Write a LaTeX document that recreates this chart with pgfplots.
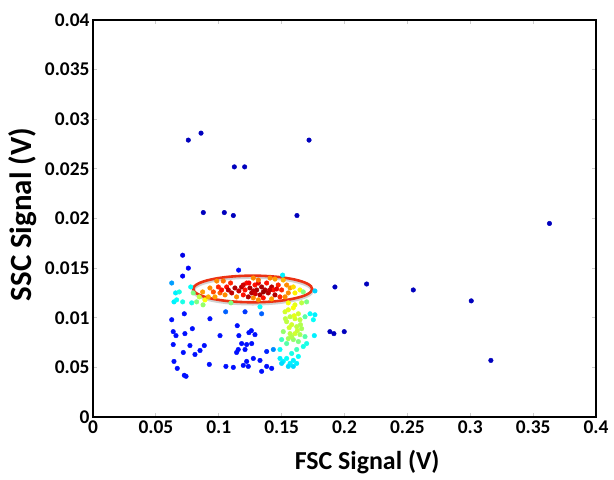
\documentclass[border=0pt]{standalone}
\usepackage{fontspec}
\setmainfont{Carlito}
\usepackage{pgfplots}
\usepackage{pgfplotstable}
\pgfplotsset{compat=1.18}
\definecolor{ellred}{RGB}{235,50,20}
\pgfplotstableread{
x y c
0.0758 0.0279 0.06
0.0859 0.0286 0.06
0.1718 0.0279 0.06
0.1124 0.0252 0.06
0.1206 0.0252 0.06
0.0877 0.0206 0.06
0.1044 0.0206 0.06
0.1116 0.0203 0.06
0.1622 0.0203 0.06
0.3630 0.0195 0.06
0.1924 0.0131 0.06
0.2176 0.0134 0.06
0.2547 0.0128 0.06
0.3008 0.0117 0.06
0.3164 0.0057 0.06
0.1884 0.0086 0.06
0.1916 0.0084 0.06
0.1998 0.0086 0.06
0.0713 0.0163 0.10
0.0758 0.0150 0.12
0.0713 0.0142 0.12
0.1158 0.0148 0.14
0.0626 0.0135 0.28
0.0657 0.0125 0.36
0.0686 0.0126 0.40
0.0644 0.0116 0.36
0.0665 0.0118 0.38
0.0713 0.0116 0.40
0.0777 0.0131 0.38
0.0797 0.0125 0.50
0.0785 0.0115 0.40
0.0824 0.0116 0.50
0.0845 0.0121 0.56
0.0872 0.0126 0.72
0.0890 0.0118 0.62
0.0917 0.0121 0.70
0.0930 0.0130 0.74
0.0957 0.0126 0.80
0.0970 0.0121 0.72
0.0997 0.0131 0.84
0.1010 0.0125 0.78
0.1023 0.0128 0.86
0.1050 0.0123 0.74
0.1063 0.0131 0.86
0.1076 0.0128 0.94
0.1094 0.0135 0.84
0.1103 0.0125 0.94
0.1129 0.0130 0.95
0.1142 0.0121 0.74
0.1097 0.0115 0.50
0.0875 0.0113 0.52
0.0984 0.0137 0.74
0.1036 0.0137 0.76
0.1182 0.0131 0.95
0.1209 0.0128 0.86
0.1222 0.0135 0.86
0.1248 0.0130 0.96
0.1262 0.0125 0.95
0.1288 0.0133 0.86
0.1302 0.0128 0.96
0.1328 0.0123 0.95
0.1341 0.0131 0.96
0.1368 0.0128 0.95
0.1381 0.0135 0.86
0.1394 0.0125 0.95
0.1421 0.0131 0.95
0.1434 0.0128 0.86
0.1447 0.0123 0.95
0.1473 0.0133 0.84
0.1500 0.0128 0.84
0.1195 0.0123 0.86
0.1235 0.0121 0.95
0.1354 0.0120 0.86
0.1487 0.0121 0.84
0.1160 0.0127 0.93
0.1195 0.0133 0.92
0.1275 0.0127 0.94
0.1315 0.0135 0.90
0.1355 0.0126 0.97
0.1405 0.0128 0.93
0.1460 0.0129 0.90
0.1240 0.0135 0.88
0.1290 0.0124 0.92
0.1275 0.0140 0.74
0.1315 0.0138 0.76
0.1408 0.0140 0.74
0.1447 0.0139 0.72
0.1513 0.0138 0.70
0.1540 0.0133 0.74
0.1567 0.0130 0.72
0.1593 0.0131 0.66
0.1553 0.0125 0.74
0.1606 0.0125 0.64
0.1646 0.0128 0.62
0.1527 0.0121 0.74
0.1275 0.0120 0.74
0.1315 0.0118 0.74
0.1421 0.0119 0.72
0.1508 0.0143 0.36
0.1765 0.0127 0.33
0.1328 0.0111 0.38
0.1672 0.0126 0.50
0.1553 0.0115 0.62
0.1606 0.0113 0.60
0.1659 0.0115 0.56
0.1699 0.0116 0.50
0.1527 0.0106 0.58
0.1553 0.0108 0.60
0.1593 0.0110 0.62
0.1633 0.0104 0.58
0.1567 0.0101 0.56
0.1606 0.0099 0.58
0.1646 0.0098 0.56
0.1540 0.0096 0.56
0.1580 0.0093 0.58
0.1620 0.0091 0.56
0.1659 0.0089 0.54
0.1513 0.0086 0.52
0.1567 0.0084 0.56
0.1606 0.0084 0.58
0.1646 0.0083 0.54
0.1553 0.0079 0.54
0.1593 0.0078 0.52
0.1633 0.0076 0.50
0.1540 0.0074 0.46
0.1500 0.0078 0.44
0.1686 0.0081 0.46
0.1699 0.0074 0.40
0.1672 0.0071 0.40
0.1726 0.0104 0.38
0.1765 0.0103 0.36
0.1752 0.0098 0.38
0.1686 0.0101 0.46
0.1620 0.0068 0.44
0.1487 0.0068 0.38
0.1600 0.0102 0.60
0.1560 0.0090 0.58
0.1625 0.0087 0.57
0.1580 0.0081 0.55
0.1530 0.0099 0.56
0.1650 0.0093 0.55
0.1760 0.0082 0.36
0.1487 0.0059 0.36
0.1513 0.0056 0.36
0.1540 0.0059 0.38
0.1567 0.0054 0.36
0.1593 0.0057 0.36
0.1633 0.0061 0.38
0.1553 0.0051 0.34
0.1593 0.0051 0.34
0.1500 0.0054 0.34
0.1620 0.0054 0.36
0.1580 0.0064 0.40
0.0726 0.0104 0.14
0.0930 0.0099 0.14
0.0626 0.0098 0.14
0.1055 0.0106 0.22
0.1209 0.0106 0.18
0.1341 0.0104 0.22
0.1147 0.0092 0.14
0.0790 0.0089 0.14
0.0638 0.0086 0.14
0.0660 0.0082 0.14
0.0731 0.0084 0.14
0.1010 0.0082 0.14
0.1160 0.0082 0.14
0.1240 0.0085 0.14
0.1259 0.0087 0.14
0.1288 0.0083 0.14
0.0638 0.0073 0.14
0.0771 0.0072 0.14
0.0885 0.0072 0.14
0.0718 0.0065 0.14
0.0851 0.0067 0.14
0.0811 0.0063 0.14
0.1155 0.0068 0.14
0.1142 0.0065 0.14
0.1182 0.0074 0.14
0.1222 0.0073 0.14
0.1262 0.0074 0.14
0.1209 0.0068 0.14
0.1381 0.0066 0.16
0.1434 0.0068 0.26
0.1275 0.0059 0.14
0.1328 0.0057 0.14
0.1222 0.0056 0.14
0.1195 0.0052 0.14
0.1235 0.0051 0.14
0.1381 0.0051 0.14
0.1421 0.0049 0.14
0.1341 0.0046 0.14
0.0644 0.0056 0.14
0.0925 0.0053 0.14
0.1057 0.0051 0.14
0.1116 0.0050 0.14
0.0670 0.0049 0.14
0.0726 0.0042 0.14
0.0740 0.0041 0.14
}\pts
\begin{document}
\begin{tikzpicture}
\useasboundingbox (-93bp,-63bp) rectangle (521bp,417bp);
\begin{axis}[
  anchor=south west, at={(0,0)},
  scale only axis, width=503bp, height=397bp,
  xmin=0, xmax=0.4, ymin=0, ymax=0.04,
  xtick={0,0.05,0.1,0.15,0.2,0.25,0.3,0.35,0.4},
  xticklabels={0,0.05,0.1,0.15,0.2,0.25,0.3,0.35,0.4},
  ytick={0,0.005,0.01,0.015,0.02,0.025,0.03,0.035,0.04},
  yticklabels={0,0.05,0.01,0.015,0.02,0.025,0.03,0.035,0.04},
  scaled ticks=false,
  tick align=inside, major tick length=4bp,
  tick style={gray!40, line width=0.8bp},
  axis line style={black, line width=2.6bp},
  ticklabel style={font=\bfseries\fontsize{19.5}{22}\selectfont},
  xlabel={FSC Signal (V)}, ylabel={SSC Signal (V)},
  xlabel style={font=\bfseries\fontsize{26}{30}\selectfont, at={(axis description cs:0.545,-0.113)}, anchor=center},
  ylabel style={font=\bfseries\fontsize{31}{34}\selectfont, at={(axis description cs:-0.14,0.51)}, anchor=center},
  colormap/jet, point meta min=0, point meta max=1,
]
\addplot[scatter, only marks, mark=*, mark size=2.3bp,
  scatter/use mapped color={draw=mapped color, fill=mapped color},
  point meta=explicit] table[x=x, y=y, meta=c] {\pts};
\draw[gray!35, line width=3.5bp] (axis cs:0.127,0.01275) ellipse [x radius=0.0473, y radius=0.00134];
\draw[ellred, line width=2.6bp] (axis cs:0.127,0.0129) ellipse [x radius=0.0473, y radius=0.00134];
\end{axis}
\end{tikzpicture}
\end{document}
